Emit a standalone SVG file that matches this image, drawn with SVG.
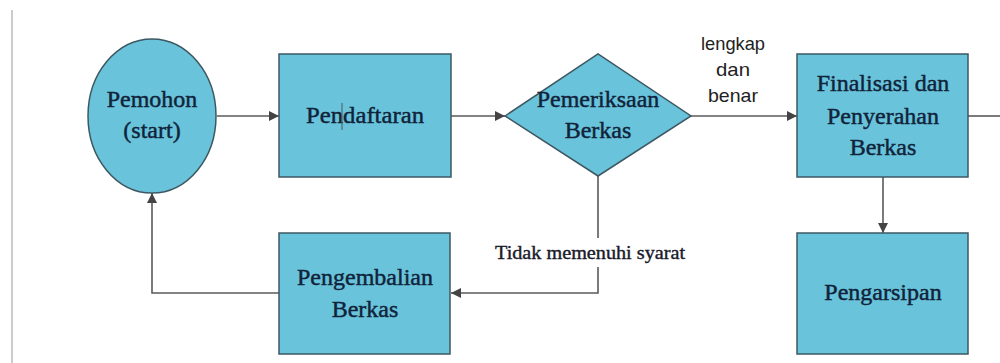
<svg xmlns="http://www.w3.org/2000/svg" width="1000" height="363" viewBox="0 0 1000 363">
<defs>
<style>
.node{fill:#69c3da;stroke:#3d5863;stroke-width:1.5}
.t{font-family:"Liberation Serif",serif;font-size:24px;fill:#10233a;stroke:#10233a;stroke-width:0.45;text-anchor:middle}
.c{fill:none;stroke:#5a5a5a;stroke-width:1.6}
.lbl{font-family:"Liberation Sans",sans-serif;font-size:19px;fill:#222;text-anchor:middle}
.lbl2{font-family:"Liberation Serif",serif;font-size:19px;fill:#1a1a2a;stroke:#1a1a2a;stroke-width:0.4;text-anchor:middle}
</style>
<marker id="ah" viewBox="0 0 10 10" refX="10" refY="5" markerWidth="10" markerHeight="10" markerUnits="userSpaceOnUse" orient="auto">
<path d="M0,0 L10,5 L0,10 z" fill="#444"/>
</marker>
</defs>
<rect width="1000" height="363" fill="#fff"/>
<line x1="12" y1="10" x2="12" y2="363" stroke="#bbb" stroke-width="1.5"/>
<g id="connectors">
<line class="c" x1="217" y1="116" x2="279" y2="116" marker-end="url(#ah)"/>
<line class="c" x1="451" y1="116" x2="505" y2="116" marker-end="url(#ah)"/>
<line class="c" x1="691" y1="116" x2="797" y2="116" marker-end="url(#ah)"/>
<line class="c" x1="968" y1="116" x2="1000" y2="116"/>
<line class="c" x1="883" y1="177" x2="883" y2="233" marker-end="url(#ah)"/>
<polyline class="c" points="598,176 598,238"/>
<polyline class="c" points="598,267 598,293 451,293" marker-end="url(#ah)"/>
<polyline class="c" points="279,293 152,293 152,193" marker-end="url(#ah)"/>
<text class="lbl" x="733" y="50" textLength="64" lengthAdjust="spacingAndGlyphs">lengkap</text>
<text class="lbl" x="733" y="76" textLength="34" lengthAdjust="spacingAndGlyphs">dan</text>
<text class="lbl" x="733" y="102" textLength="50" lengthAdjust="spacingAndGlyphs">benar</text>
<text class="lbl2" x="590" y="259" textLength="190" lengthAdjust="spacingAndGlyphs">Tidak memenuhi syarat</text>
</g>
<g id="pemohon">
<ellipse class="node" cx="152" cy="116" rx="64" ry="77"/>
<text class="t" x="152" y="107">Pemohon</text>
<text class="t" x="152" y="138">(start)</text>
</g>
<g id="pendaftaran">
<rect class="node" x="279" y="54" width="172" height="123"/>
<text class="t" x="365" y="123" textLength="118" lengthAdjust="spacingAndGlyphs">Pendaftaran</text>
<line x1="342" y1="103" x2="342" y2="130" stroke="#555" stroke-width="1"/>
</g>
<g id="pemeriksaan">
<polygon class="node" points="505,116 598,54 691,116 598,176"/>
<text class="t" x="598" y="107">Pemeriksaan</text>
<text class="t" x="598" y="138">Berkas</text>
</g>
<g id="finalisasi">
<rect class="node" x="797" y="54" width="171" height="123"/>
<text class="t" x="883" y="91">Finalisasi dan</text>
<text class="t" x="883" y="124">Penyerahan</text>
<text class="t" x="883" y="155">Berkas</text>
</g>
<g id="pengembalian">
<rect class="node" x="279" y="233" width="171" height="121"/>
<text class="t" x="365" y="285">Pengembalian</text>
<text class="t" x="365" y="317">Berkas</text>
</g>
<g id="pengarsipan">
<rect class="node" x="797" y="233" width="171" height="121"/>
<text class="t" x="883" y="300">Pengarsipan</text>
</g>
</svg>
